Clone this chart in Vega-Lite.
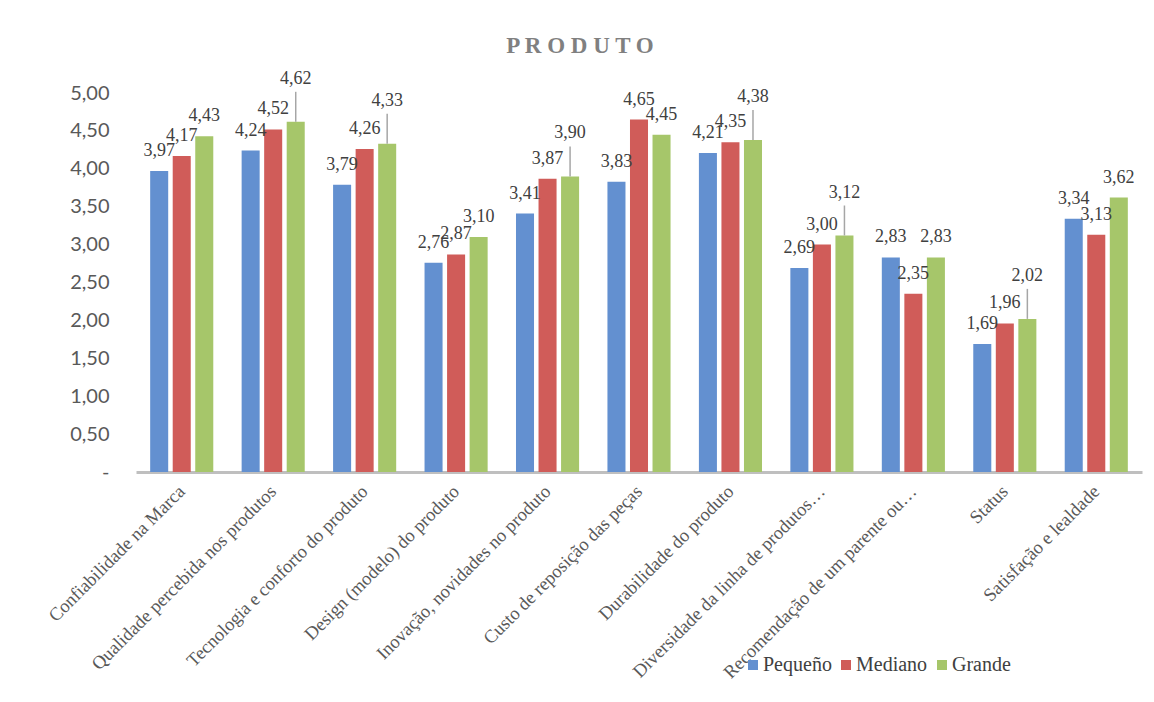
{
  "$schema": "https://vega.github.io/schema/vega-lite/v6.json",
  "width": 1006,
  "height": 379,
  "autosize": {"type": "none"},
  "padding": {"left": 136, "top": 93, "right": 12, "bottom": 230},
  "background": "white",
  "config": {
    "view": {"stroke": null},
    "locale": {"number": {"decimal": ",", "thousands": ".", "grouping": [3], "currency": ["", " €"]}}
  },
  "title": {
    "text": "P R O D U T O",
    "font": "Liberation Serif",
    "fontSize": 23,
    "fontWeight": "bold",
    "color": "#808080",
    "anchor": "middle",
    "frame": "group",
    "baseline": "alphabetic",
    "offset": 31,
    "dx": -59,
    "dy": 37
  },
  "data": {
    "values": [
      {"aspecto": "Confiabilidade na Marca", "porte": "Pequeño", "valor": 3.97},
      {"aspecto": "Confiabilidade na Marca", "porte": "Mediano", "valor": 4.17},
      {"aspecto": "Confiabilidade na Marca", "porte": "Grande", "valor": 4.43},
      {"aspecto": "Qualidade percebida nos produtos", "porte": "Pequeño", "valor": 4.24},
      {"aspecto": "Qualidade percebida nos produtos", "porte": "Mediano", "valor": 4.52},
      {"aspecto": "Qualidade percebida nos produtos", "porte": "Grande", "valor": 4.62},
      {"aspecto": "Tecnologia e conforto do produto", "porte": "Pequeño", "valor": 3.79},
      {"aspecto": "Tecnologia e conforto do produto", "porte": "Mediano", "valor": 4.26},
      {"aspecto": "Tecnologia e conforto do produto", "porte": "Grande", "valor": 4.33},
      {"aspecto": "Design (modelo) do produto", "porte": "Pequeño", "valor": 2.76},
      {"aspecto": "Design (modelo) do produto", "porte": "Mediano", "valor": 2.87},
      {"aspecto": "Design (modelo) do produto", "porte": "Grande", "valor": 3.10},
      {"aspecto": "Inovação, novidades no produto", "porte": "Pequeño", "valor": 3.41},
      {"aspecto": "Inovação, novidades no produto", "porte": "Mediano", "valor": 3.87},
      {"aspecto": "Inovação, novidades no produto", "porte": "Grande", "valor": 3.90},
      {"aspecto": "Custo de reposição das peças", "porte": "Pequeño", "valor": 3.83},
      {"aspecto": "Custo de reposição das peças", "porte": "Mediano", "valor": 4.65},
      {"aspecto": "Custo de reposição das peças", "porte": "Grande", "valor": 4.45},
      {"aspecto": "Durabilidade do produto", "porte": "Pequeño", "valor": 4.21},
      {"aspecto": "Durabilidade do produto", "porte": "Mediano", "valor": 4.35},
      {"aspecto": "Durabilidade do produto", "porte": "Grande", "valor": 4.38},
      {"aspecto": "Diversidade da linha de produtos…", "porte": "Pequeño", "valor": 2.69},
      {"aspecto": "Diversidade da linha de produtos…", "porte": "Mediano", "valor": 3.00},
      {"aspecto": "Diversidade da linha de produtos…", "porte": "Grande", "valor": 3.12},
      {"aspecto": "Recomendação de um parente ou…", "porte": "Pequeño", "valor": 2.83},
      {"aspecto": "Recomendação de um parente ou…", "porte": "Mediano", "valor": 2.35},
      {"aspecto": "Recomendação de um parente ou…", "porte": "Grande", "valor": 2.83},
      {"aspecto": "Status", "porte": "Pequeño", "valor": 1.69},
      {"aspecto": "Status", "porte": "Mediano", "valor": 1.96},
      {"aspecto": "Status", "porte": "Grande", "valor": 2.02},
      {"aspecto": "Satisfação e lealdade", "porte": "Pequeño", "valor": 3.34},
      {"aspecto": "Satisfação e lealdade", "porte": "Mediano", "valor": 3.13},
      {"aspecto": "Satisfação e lealdade", "porte": "Grande", "valor": 3.62}
    ]
  },
  "transform": [
    {"window": [{"op": "lag", "field": "valor", "as": "anterior"}], "groupby": ["aspecto"], "sort": [{"field": "porte", "order": "descending"}]},
    {"calculate": "datum.porte === 'Grande' && datum.valor - datum.anterior >= 0 && datum.valor - datum.anterior < 0.2", "as": "guia"},
    {"calculate": "replace(format(datum.valor, '.2f'), '.', ',')", "as": "rotulo"}
  ],
  "encoding": {
    "x": {
      "field": "aspecto",
      "type": "nominal",
      "sort": null,
      "scale": {"paddingInner": 0.31, "paddingOuter": 0.155},
      "axis": {
        "title": null,
        "labelAngle": -45,
        "labelAlign": "right",
        "labelBaseline": "middle",
        "labelFont": "Liberation Serif",
        "labelFontSize": 18.5,
        "labelColor": "#595959",
        "labelPadding": 16,
        "labelLimit": 400,
        "ticks": false,
        "domainColor": "#bfbfbf",
        "domainWidth": 3
      }
    },
    "xOffset": {
      "field": "porte",
      "type": "nominal",
      "sort": ["Pequeño", "Mediano", "Grande"],
      "scale": {"paddingInner": 0.2, "paddingOuter": 0}
    },
    "y": {
      "field": "valor",
      "type": "quantitative",
      "scale": {"domain": [0, 5], "nice": false},
      "axis": {
        "title": null,
        "values": [0, 0.5, 1, 1.5, 2, 2.5, 3, 3.5, 4, 4.5, 5],
        "labelExpr": "datum.value === 0 ? '-' : replace(format(datum.value, '.2f'), '.', ',')",
        "labelFont": "Lato",
        "labelFontSize": 20,
        "labelColor": "#595959",
        "labelPadding": 27,
        "domain": false,
        "ticks": false,
        "grid": false
      }
    }
  },
  "layer": [
    {
      "mark": {"type": "bar"},
      "encoding": {
        "color": {
          "field": "porte",
          "type": "nominal",
          "sort": ["Pequeño", "Mediano", "Grande"],
          "scale": {"domain": ["Pequeño", "Mediano", "Grande"], "range": ["#6390d0", "#d05c59", "#a6c66a"]},
          "legend": {
            "title": null,
            "orient": "none",
            "legendX": 607,
            "legendY": 562,
            "direction": "horizontal",
            "symbolType": "square",
            "symbolSize": 100,
            "symbolStrokeWidth": 0,
            "labelFont": "Liberation Serif",
            "labelFontSize": 20,
            "labelColor": "#404040",
            "labelOffset": 0,
            "columnPadding": 4
          }
        }
      }
    },
    {
      "transform": [{"filter": "datum.guia"}],
      "mark": {"type": "rule", "color": "#a6a6a6", "strokeWidth": 1.5, "y2Offset": -30},
      "encoding": {"y2": {"field": "valor"}}
    },
    {
      "transform": [{"filter": "!datum.guia"}],
      "mark": {"type": "text", "baseline": "alphabetic", "align": "center", "dy": -15, "font": "Liberation Serif", "fontSize": 18, "color": "#404040"},
      "encoding": {"text": {"field": "rotulo"}}
    },
    {
      "transform": [{"filter": "datum.guia"}],
      "mark": {"type": "text", "baseline": "alphabetic", "align": "center", "dy": -38, "font": "Liberation Serif", "fontSize": 18, "color": "#404040"},
      "encoding": {"text": {"field": "rotulo"}}
    }
  ]
}
